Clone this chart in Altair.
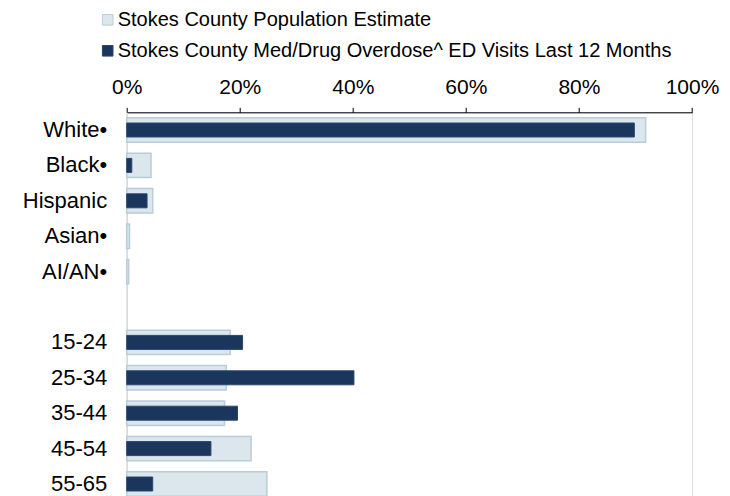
import altair as alt
import pandas as pd

# ---- data ----
row_order = ["White•", "Black•", "Hispanic", "Asian•", "AI/AN•", " ",
             "15-24", "25-34", "35-44", "45-54", "55-65"]
bar_categories = ["White•", "Black•", "Hispanic", "Asian•", "AI/AN•",
                  "15-24", "25-34", "35-44", "45-54", "55-65"]
pop_values = [0.918, 0.043, 0.046, 0.005, 0.0035, 0.183, 0.176, 0.173, 0.220, 0.248]
ed_values = [0.898, 0.009, 0.036, 0.0, 0.0, 0.205, 0.402, 0.196, 0.149, 0.046]
pop_series = "Stokes County Population Estimate"
ed_series = "Stokes County Med/Drug Overdose^ ED Visits Last 12 Months"
series_names = [pop_series, ed_series]
x_ticks = [0, 0.2, 0.4, 0.6, 0.8, 1.0]

pop_df = pd.DataFrame({"category": bar_categories, "value": pop_values, "series": pop_series})
ed_df = pd.DataFrame({"category": bar_categories, "value": ed_values, "series": ed_series})

FONT = "Liberation Sans"
fill_range = ["#dce6ed", "#1b365d"]
stroke_range = ["#b8ccd9", "#2c4670"]

legend = alt.Legend(
    title=None, orient="none", legendX=-29, legendY=-102.5,
    symbolType="square", symbolSize=112, symbolStrokeWidth=1,
    labelFontSize=20, labelFont=FONT, labelColor="black",
    rowPadding=11, labelOffset=0, padding=0, labelLimit=700,
)

y_enc = alt.Y(
    "category:N",
    scale=alt.Scale(domain=row_order, range=[0, 389.4],
                    paddingInner=0.31, paddingOuter=0.155),
    axis=alt.Axis(title=None, ticks=False, domainColor="#d9d9d9", domainWidth=1.5,
                  labelFontSize=22, labelFont=FONT, labelColor="black",
                  labelPadding=20, labelLimit=300),
)
x_enc = alt.X(
    "value:Q",
    scale=alt.Scale(domain=[0, 1]),
    axis=alt.Axis(orient="top", format="%", values=x_ticks, title=None, grid=False,
                  labelFlush=False, labelOverlap=False,
                  domainColor="black", tickColor="black", tickSize=5, domainWidth=1,
                  labelFontSize=21, labelFont=FONT, labelColor="black", labelPadding=10),
)
color_enc = alt.Color("series:N", scale=alt.Scale(domain=series_names, range=fill_range),
                      legend=legend)
stroke_enc = alt.Stroke("series:N", scale=alt.Scale(domain=series_names, range=stroke_range),
                        legend=legend)

pop_layer = alt.Chart(pop_df).mark_bar(strokeWidth=1.5).encode(
    x=x_enc, y=y_enc, color=color_enc, stroke=stroke_enc
)
ed_layer = alt.Chart(ed_df).transform_filter("datum.value > 0").mark_bar(
    size=14, strokeWidth=1
).encode(
    x=x_enc, y=y_enc, color=color_enc, stroke=stroke_enc
)

chart = alt.layer(pop_layer, ed_layer).properties(
    width=565.3,
    height=383.7,
    autosize=alt.AutoSizeParams(type="none"),
    padding={"left": 118.7, "top": 104.3, "right": 30, "bottom": 0},
).configure_view(strokeWidth=0).configure(font=FONT)

chart.save("out.html", embed_options={"renderer": "svg", "actions": False})
